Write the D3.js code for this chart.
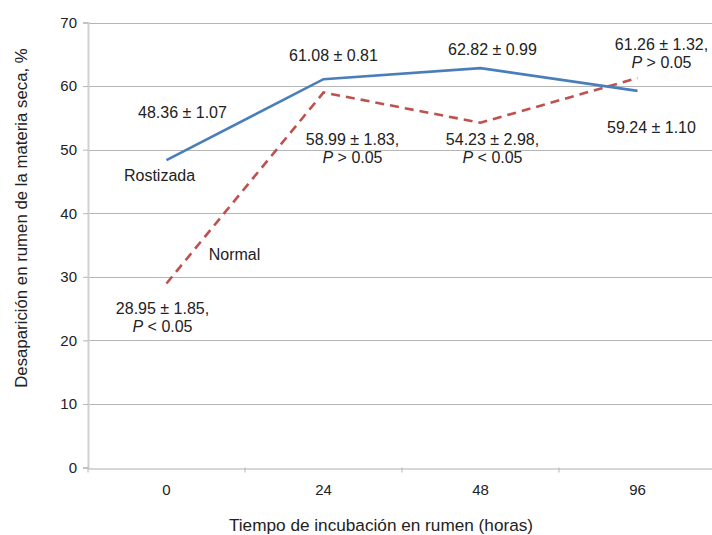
<!DOCTYPE html>
<html>
<head>
<meta charset="utf-8">
<script src="https://cdn.jsdelivr.net/npm/d3@7/dist/d3.min.js"></script>
<style>
  html, body { margin: 0; padding: 0; background: #fff; }
  svg { display: block; font-family: "Liberation Sans", Arial, sans-serif; }
</style>
</head>
<body>
<svg id="chart" width="712" height="535"></svg>
<script>
const categories = ["0", "24", "48", "96"];
const rostizada = [48.36, 61.08, 62.82, 59.24];
const normal = [28.95, 58.99, 54.23, 61.26];
const yTicks = [0, 10, 20, 30, 40, 50, 60, 70];
const seriesNames = ["Rostizada", "Normal"];
const annotations = [
  { lines: ["48.36 ± 1.07"], cat: "0", v: 48.36, dx: 16, dy: -48 },
  { lines: ["Rostizada"], cat: "0", v: 48.36, dx: -7, dy: 15 },
  { lines: ["Normal"], cat: "0", v: 28.95, dx: 68, dy: -29 },
  { lines: ["28.95 ± 1.85,", "P < 0.05"], cat: "0", v: 28.95, dx: -4, dy: 25 },
  { lines: ["61.08 ± 0.81"], cat: "24", v: 61.08, dx: 10, dy: -24 },
  { lines: ["58.99 ± 1.83,", "P > 0.05"], cat: "24", v: 58.99, dx: 29, dy: 47 },
  { lines: ["62.82 ± 0.99"], cat: "48", v: 62.82, dx: 12, dy: -19 },
  { lines: ["54.23 ± 2.98,", "P < 0.05"], cat: "48", v: 54.23, dx: 12, dy: 17 },
  { lines: ["61.26 ± 1.32,", "P > 0.05"], cat: "96", v: 61.26, dx: 24, dy: -34 },
  { lines: ["59.24  ± 1.10"], cat: "96", v: 59.24, dx: 14, dy: 36 }
];

const svg = d3.select("#chart");
const plotLeft = 88, plotRight = 716, plotTop = 22.5, plotBottom = 467.5;

const x = d3.scaleBand().domain(categories).range([plotLeft, plotRight]);
const y = d3.scaleLinear().domain([0, 70]).range([plotBottom, plotTop]);

// gridlines
svg.append("g").selectAll("line").data(yTicks.filter(d => d > 0)).join("line")
  .attr("x1", plotLeft).attr("x2", plotRight)
  .attr("y1", d => Math.round(y(d)) + 0.5).attr("y2", d => Math.round(y(d)) + 0.5)
  .attr("stroke", "#b5b5b5").attr("stroke-width", 1);

// y axis
const yAxis = svg.append("g").attr("transform", `translate(${plotLeft},0)`)
  .call(d3.axisLeft(y).tickValues(yTicks).tickSize(5).tickPadding(6));
yAxis.select(".domain").attr("stroke", "#d0d0d0").attr("stroke-width", 2);
yAxis.selectAll(".tick line").attr("stroke", "#b5b5b5");
yAxis.selectAll("text").attr("font-size", 15).attr("fill", "#222")
  .attr("font-family", "Liberation Sans, Arial, sans-serif");

// x axis
const xAxis = svg.append("g").attr("transform", `translate(0,${Math.round(plotBottom) + 0.5})`)
  .call(d3.axisBottom(x).tickSize(0).tickPadding(16));
xAxis.select(".domain").attr("stroke", "#c8c8c8").attr("stroke-width", 1.5);
xAxis.selectAll("text").attr("font-size", 15).attr("fill", "#222")
  .attr("font-family", "Liberation Sans, Arial, sans-serif");
// category boundary ticks
svg.append("g").selectAll("line").data(categories).join("line")
  .attr("x1", d => x(d)).attr("x2", d => x(d))
  .attr("y1", plotBottom).attr("y2", plotBottom + 5)
  .attr("stroke", "#b5b5b5");

const line = d3.line()
  .x((d, i) => x(categories[i]) + x.bandwidth() / 2)
  .y(d => y(d));

svg.append("path").datum(normal).attr("d", line)
  .attr("fill", "none").attr("stroke", "#c0504d").attr("stroke-width", 2.6)
  .attr("stroke-dasharray", "9,6");
svg.append("path").datum(rostizada).attr("d", line)
  .attr("fill", "none").attr("stroke", "#4a7ebb").attr("stroke-width", 2.6);

// annotations
const ann = svg.append("g").attr("font-size", 16).attr("fill", "#222").attr("text-anchor", "middle");
annotations.forEach(a => {
  const cx = x(a.cat) + x.bandwidth() / 2 + a.dx;
  const cy = y(a.v) + a.dy;
  a.lines.forEach((t, i) => {
    const txt = ann.append("text").attr("x", cx).attr("y", cy + i * 18).attr("dy", "0.35em");
    if (t.startsWith("P ")) {
      txt.append("tspan").attr("font-style", "italic").text("P");
      txt.append("tspan").text(t.slice(1));
    } else {
      txt.text(t);
    }
  });
});

// axis titles
svg.append("text").attr("x", 381).attr("y", 525).attr("dy", "0.35em")
  .attr("text-anchor", "middle").attr("font-size", 17.2).attr("fill", "#222")
  .text("Tiempo de incubación en rumen (horas)");
svg.append("text").attr("transform", "translate(21,218) rotate(-90)").attr("dy", "0.35em")
  .attr("text-anchor", "middle").attr("font-size", 16.8).attr("fill", "#222")
  .text("Desaparición en rumen de la materia seca, %");
</script>
</body>
</html>
